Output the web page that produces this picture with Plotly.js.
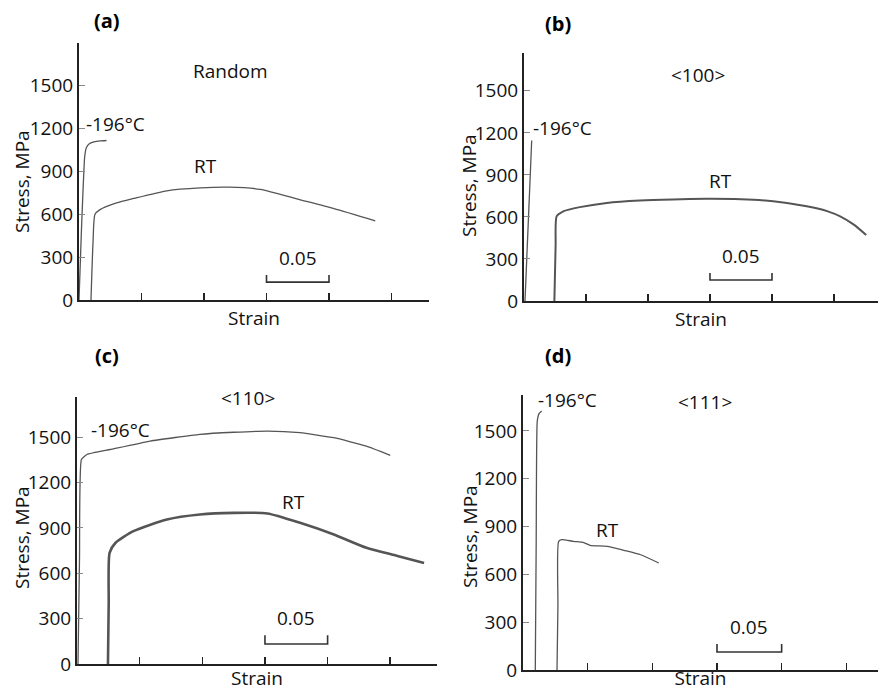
<!DOCTYPE html>
<html>
<head>
<meta charset="utf-8">
<script src="https://cdn.plot.ly/plotly-3.0.1.min.js"></script>
<style>html,body{margin:0;padding:0;background:#fff;}#chart{width:878px;height:691px;}</style>
</head>
<body>
<div id="chart"></div>
<script>
// ---------------- data (strain, stress in MPa) ----------------
const panelLabels = ['(a)', '(b)', '(c)', '(d)'];
const orientations = ['Random', '&lt;100&gt;', '&lt;110&gt;', '&lt;111&gt;'];
const seriesNames = ['-196°C', 'RT'];
const yTickVals = [0, 300, 600, 900, 1200, 1500];
const xTickVals = [0.05, 0.10, 0.15, 0.20, 0.25];

// (a) Random
const strainA_cryo = [0, 0.002, 0.0045, 0.0058, 0.008, 0.012, 0.017, 0.022];
const stressA_cryo = [0, 500, 1000, 1065, 1093, 1107, 1114, 1117];
const strainA_rt = [0.0096, 0.0112, 0.0128, 0.0168, 0.03, 0.0436, 0.0703, 0.097, 0.12, 0.145, 0.177, 0.204, 0.237];
const stressA_rt = [0, 400, 600, 633, 680, 711, 765, 785, 790, 775, 702, 640, 555];

// (b) <100>
const strainB_cryo = [0.0008, 0.0062];
const stressB_cryo = [0, 1145];
const strainB_rt = [0.0245, 0.0255, 0.0263, 0.0317, 0.045, 0.0667, 0.0935, 0.12, 0.147, 0.175, 0.201, 0.228, 0.245, 0.255, 0.266, 0.276];
const stressB_rt = [0, 400, 604, 640, 670, 700, 717, 725, 729, 726, 712, 676, 640, 604, 545, 471];

// (c) <110>
const strainC_cryo = [0.0008, 0.002, 0.0035, 0.008, 0.0266, 0.0585, 0.098, 0.125, 0.152, 0.178, 0.205, 0.231, 0.25];
const stressC_cryo = [0, 700, 1352, 1385, 1418, 1474, 1518, 1532, 1540, 1529, 1496, 1440, 1379];
const strainC_rt = [0.0247, 0.0253, 0.026, 0.0306, 0.045, 0.0718, 0.098, 0.125, 0.152, 0.178, 0.205, 0.231, 0.255, 0.277];
const stressC_rt = [0, 400, 735, 800, 878, 955, 988, 999, 995, 933, 856, 768, 716, 668];

// (d) <111>
const strainD_cryo = [0.0095, 0.0102, 0.011, 0.0125, 0.0145];
const stressD_cryo = [0, 800, 1560, 1610, 1625];
const strainD_rt = [0.0263, 0.027, 0.0276, 0.030, 0.039, 0.047, 0.052, 0.065, 0.078, 0.091, 0.105];
const stressD_rt = [0, 400, 807, 818, 807, 799, 782, 776, 751, 723, 671];

// scale bar (0.05 strain) for each panel
const scaleBarX = [0.15, 0.15, 0.20, 0.20];
const scaleBarY = [[175, 125, 125, 175], [200, 150, 150, 200], [190, 132, 132, 190], [163, 113, 113, 163]];
const scaleBarText = '0.05';

// ---------------- layout geometry (pixels) ----------------
const W = 878, H = 691;
const px = v => v / W;
const py = v => 1 - v / H;
// [x-axis left px, x-axis right px, y-zero px, y-top px, x range max, y range max]
const geo = [
  [79, 429, 300, 43, 0.28, 1800],
  [524, 878, 301, 53, 0.2855, 1770],
  [77, 437, 664, 397, 0.2873, 1765],
  [523, 878, 670, 395, 0.2745, 1725]
];
const FONT = '"Open Sans", "Noto Sans", sans-serif';
const cryoX = [strainA_cryo, strainB_cryo, strainC_cryo, strainD_cryo];
const cryoY = [stressA_cryo, stressB_cryo, stressC_cryo, stressD_cryo];
const rtX = [strainA_rt, strainB_rt, strainC_rt, strainD_rt];
const rtY = [stressA_rt, stressB_rt, stressC_rt, stressD_rt];
const rtWidth = [1.3, 2, 2.6, 1.3];

const traces = [];
const layout = {
  width: W, height: H,
  margin: {l: 0, r: 0, t: 0, b: 0},
  paper_bgcolor: '#fff', plot_bgcolor: 'rgba(0,0,0,0)',
  showlegend: false,
  font: {family: FONT, size: 19, color: '#111'},
  annotations: []
};

// label positions (pixels)
const panelPos = [[107, 20], [558, 23], [107, 355], [558, 355]];
const orientPos = [[230, 71], [698, 75], [248, 398], [705, 402]];
const cryoLabelPos = [[84, 124], [531, 128], [89, 430], [536, 400]];
const rtLabelPos = [[205, 166], [720, 181], [293, 502], [607, 530]];
const yTitlePos = [[22, 182], [469, 185], [22, 538], [470, 537]];

for (let i = 0; i < 4; i++) {
  const sfx = i === 0 ? '' : String(i + 1);
  const xa = 'x' + sfx, ya = 'y' + sfx;
  const g = geo[i];
  traces.push({x: cryoX[i], y: cryoY[i], xaxis: xa, yaxis: ya, mode: 'lines', name: seriesNames[0],
    line: {color: '#555', width: 1.3, shape: 'spline', smoothing: 0.4}, hoverinfo: 'x+y'});
  traces.push({x: rtX[i], y: rtY[i], xaxis: xa, yaxis: ya, mode: 'lines', name: seriesNames[1],
    line: {color: '#555', width: rtWidth[i], shape: 'spline', smoothing: 0.6}, hoverinfo: 'x+y'});
  traces.push({x: scaleBarX, y: scaleBarY[i], xaxis: xa, yaxis: ya, mode: 'lines', name: 'scale',
    line: {color: '#333', width: 1.6}, hoverinfo: 'skip'});

  layout['xaxis' + sfx] = {
    domain: [px(g[0]), px(g[1])], range: [0, g[4]], anchor: ya,
    showgrid: false, zeroline: false, showline: true, linecolor: '#222', linewidth: 2,
    ticks: 'inside', ticklen: 7, tickwidth: 1.6, tickcolor: '#222',
    tickmode: 'array', tickvals: xTickVals, showticklabels: false, fixedrange: true,
    title: {text: 'Strain', standoff: 11, font: {family: FONT, size: 19, color: '#111'}}
  };
  layout['yaxis' + sfx] = {
    domain: [py(g[2]), py(g[3])], range: [0, g[5]], anchor: xa,
    showgrid: false, zeroline: false, showline: true, linecolor: '#222', linewidth: 2,
    ticks: 'inside', ticklen: 6, tickwidth: 1, tickcolor: '#888',
    tickmode: 'array', tickvals: yTickVals, ticktext: yTickVals.map(String),
    tickfont: {family: FONT, size: 19, color: '#111'}, fixedrange: true
  };

  const A = layout.annotations;
  A.push({xref: 'paper', yref: 'paper', x: px(panelPos[i][0]), y: py(panelPos[i][1]), text: '<b>' + panelLabels[i] + '</b>',
    showarrow: false, xanchor: 'center', yanchor: 'middle', font: {family: FONT, size: 20, color: '#000'}});
  A.push({xref: 'paper', yref: 'paper', x: px(orientPos[i][0]), y: py(orientPos[i][1]), text: orientations[i],
    showarrow: false, xanchor: 'center', yanchor: 'middle', font: {family: FONT, size: 19, color: '#111'}});
  A.push({xref: 'paper', yref: 'paper', x: px(cryoLabelPos[i][0]), y: py(cryoLabelPos[i][1]), text: seriesNames[0],
    showarrow: false, xanchor: 'left', yanchor: 'middle', font: {family: FONT, size: 19, color: '#111'}});
  A.push({xref: 'paper', yref: 'paper', x: px(rtLabelPos[i][0]), y: py(rtLabelPos[i][1]), text: seriesNames[1],
    showarrow: false, xanchor: 'center', yanchor: 'middle', font: {family: FONT, size: 19, color: '#111'}});
  A.push({xref: 'paper', yref: 'paper', x: px(yTitlePos[i][0]), y: py(yTitlePos[i][1]), text: 'Stress, MPa', textangle: -90,
    showarrow: false, xanchor: 'center', yanchor: 'middle', font: {family: FONT, size: 19, color: '#111'}});
  A.push({xref: xa, yref: ya, x: (scaleBarX[0] + scaleBarX[3]) / 2, y: scaleBarY[i][0] + 15, text: scaleBarText,
    showarrow: false, xanchor: 'center', yanchor: 'bottom', font: {family: FONT, size: 19, color: '#111'}});
}

Plotly.newPlot('chart', traces, layout, {displayModeBar: false, staticPlot: true});
</script>
</body>
</html>
